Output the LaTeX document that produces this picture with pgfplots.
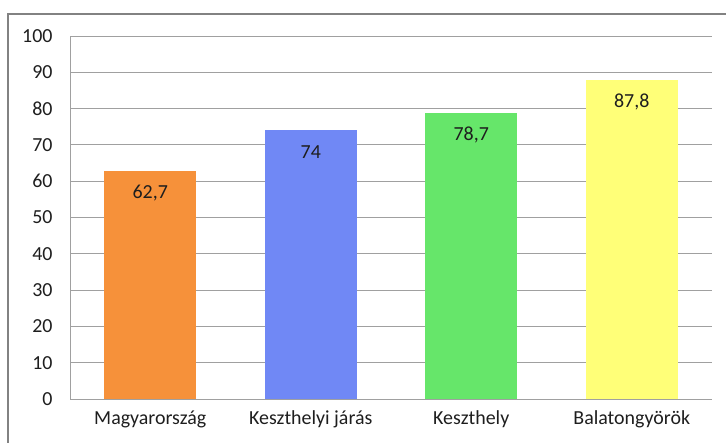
\documentclass[border=0pt]{standalone}
\usepackage{pgfplots}
\pgfplotsset{compat=1.18}
\usepackage{fontspec}
\setmainfont{Carlito}
\definecolor{barorange}{RGB}{246,145,58}
\definecolor{barblue}{RGB}{112,136,245}
\definecolor{bargreen}{RGB}{102,230,106}
\definecolor{baryellow}{RGB}{255,255,120}
\definecolor{gridgray}{RGB}{160,160,160}
\definecolor{framegray}{RGB}{130,130,130}
\definecolor{txt}{RGB}{30,30,30}
\begin{document}
\begin{tikzpicture}
\path[use as bounding box] (0bp,0bp) rectangle (726bp,443bp);
\draw[framegray, line width=1.6bp] (8bp,-20bp) -- (8bp,429bp) -- (760bp,429bp);
\begin{axis}[
  at={(70bp,44bp)}, anchor=south west,
  scale only axis, width=642bp, height=363bp,
  xmin=-0.5, xmax=3.5, ymin=0, ymax=100,
  ytick={0,10,...,100},
  xtick={0,1,2,3},
  xticklabels={Magyarország,Keszthelyi járás,Keszthely,Balatongyörök},
  major tick length=0pt,
  ymajorgrids, grid style={gridgray, line width=0.9bp},
  axis x line*=bottom, axis y line*=left,
  axis line style={gridgray, line width=1bp, -},
  /pgf/number format/assume math mode=true,
  tick label style={font=\fontsize{20}{23}\selectfont, text=txt},
  yticklabel style={xshift=-14bp},
  xticklabel style={yshift=-8bp},
  bar width=92bp,
  clip=false,
]
\addplot[ybar, fill=barorange, draw=none, nodes near coords={\pgfmathprintnumber[use comma]{\pgfplotspointmeta}}, every node near coord/.append style={anchor=center, yshift=-22bp, font=\fontsize{20}{23}\selectfont, text=txt}] coordinates {(0,62.7)};
\addplot[ybar, fill=barblue, draw=none, nodes near coords={\pgfmathprintnumber[use comma]{\pgfplotspointmeta}}, every node near coord/.append style={anchor=center, yshift=-22bp, font=\fontsize{20}{23}\selectfont, text=txt}] coordinates {(1,74)};
\addplot[ybar, fill=bargreen, draw=none, nodes near coords={\pgfmathprintnumber[use comma]{\pgfplotspointmeta}}, every node near coord/.append style={anchor=center, yshift=-22bp, font=\fontsize{20}{23}\selectfont, text=txt}] coordinates {(2,78.7)};
\addplot[ybar, fill=baryellow, draw=none, nodes near coords={\pgfmathprintnumber[use comma]{\pgfplotspointmeta}}, every node near coord/.append style={anchor=center, yshift=-22bp, font=\fontsize{20}{23}\selectfont, text=txt}] coordinates {(3,87.8)};
\end{axis}
\end{tikzpicture}
\end{document}
